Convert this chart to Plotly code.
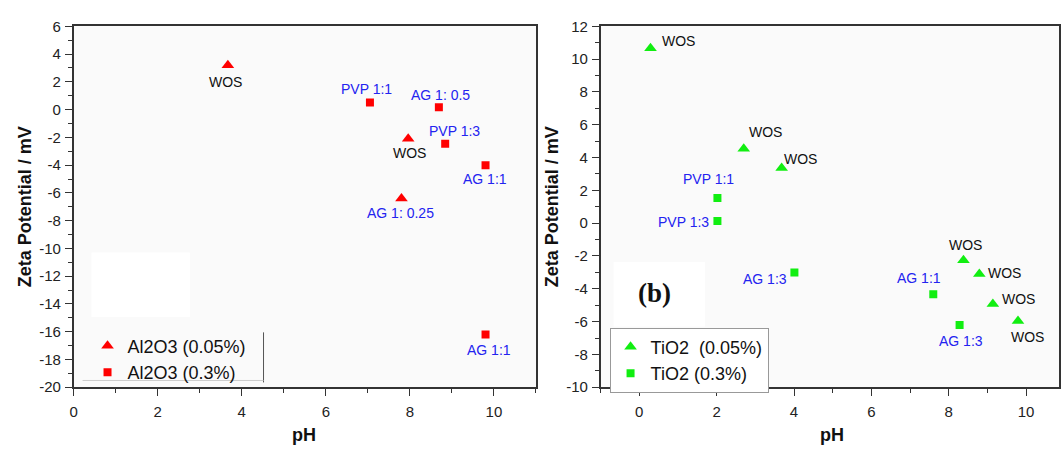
import plotly.graph_objects as go

# ---------------- data ----------------
al_tri_ph = [3.67, 7.96, 7.80]
al_tri_zeta = [3.2, -2.1, -6.4]
al_tri_labels = ["WOS", "WOS", "AG 1: 0.25"]

al_sq_ph = [7.05, 8.69, 8.84, 9.80, 9.80]
al_sq_zeta = [0.52, 0.17, -2.46, -4.0, -16.2]
al_sq_labels = ["PVP 1:1", "AG 1: 0.5", "PVP 1:3", "AG 1:1", "AG 1:1"]

ti_tri_ph = [0.29, 2.70, 3.68, 8.38, 8.79, 9.14, 9.79]
ti_tri_zeta = [10.67, 4.53, 3.36, -2.26, -3.10, -4.93, -5.96]
ti_tri_labels = ["WOS"] * 7

ti_sq_ph = [2.02, 2.02, 4.01, 7.60, 8.28]
ti_sq_zeta = [1.54, 0.14, -3.0, -4.34, -6.2]
ti_sq_labels = ["PVP 1:1", "PVP 1:3", "AG 1:3", "AG 1:1", "AG 1:3"]

series_names = ["Al2O3 (0.05%)", "Al2O3 (0.3%)", "TiO2\u00a0\u00a0(0.05%)", "TiO2 (0.3%)"]
x_title = "pH"
y_title = "Zeta Potential / mV"
panel_tag = "(b)"

x_ticks = [0, 2, 4, 6, 8, 10]
y1_ticks = [6, 4, 2, 0, -2, -4, -6, -8, -10, -12, -14, -16, -18, -20]
y2_ticks = [12, 10, 8, 6, 4, 2, 0, -2, -4, -6, -8, -10]

# ---------------- label placement (pixel offsets, style only) ----------------
al_tri_off = [(-2, 17), (1, 14), (-1, 15)]
al_sq_off = [(-3, -13), (2, -12), (9, -13), (-1, 14), (3, 16)]
ti_tri_off = [(28, -7), (22, -17), (19, -9), (2, -15), (25, -1), (26, -5), (10, 16)]
ti_sq_off = [(-9, -19), (-34, 1), (-29, 7), (-14, -16), (1, 16)]

W, H = 1061, 452
def px(v):
    return v / W
def py(v):
    return 1 - v / H

RED = "#ff0000"
GREEN = "#11ee11"
BLUE = "#2323f0"
BLACK = "#111111"
FONT = "Liberation Sans, Arial, sans-serif"

def tick_text(vals):
    return [str(v) for v in vals]  # plain hyphen-minus as in the original

fig = go.Figure()

fig.add_trace(go.Scatter(x=al_tri_ph, y=al_tri_zeta, mode="markers", name=series_names[0],
                         marker=dict(symbol="triangle-up", size=11, color=RED),
                         xaxis="x", yaxis="y", legend="legend"))
fig.add_trace(go.Scatter(x=al_sq_ph, y=al_sq_zeta, mode="markers", name=series_names[1],
                         marker=dict(symbol="square", size=8, color=RED),
                         xaxis="x", yaxis="y", legend="legend"))
fig.add_trace(go.Scatter(x=ti_tri_ph, y=ti_tri_zeta, mode="markers", name=series_names[2],
                         marker=dict(symbol="triangle-up", size=11, color=GREEN),
                         xaxis="x2", yaxis="y2", legend="legend2"))
fig.add_trace(go.Scatter(x=ti_sq_ph, y=ti_sq_zeta, mode="markers", name=series_names[3],
                         marker=dict(symbol="square", size=8, color=GREEN),
                         xaxis="x2", yaxis="y2", legend="legend2"))

annotations = []
def add_labels(xs, ys, labels, offs, xr, yr):
    for xv, yv, lab, (dx, dy) in zip(xs, ys, labels, offs):
        annotations.append(dict(x=xv, y=yv, xref=xr, yref=yr, text=lab, showarrow=False,
                                xshift=dx, yshift=-dy, xanchor="center", yanchor="middle",
                                font=dict(size=14, family=FONT,
                                          color=BLACK if lab == "WOS" else BLUE)))

add_labels(al_tri_ph, al_tri_zeta, al_tri_labels, al_tri_off, "x", "y")
add_labels(al_sq_ph, al_sq_zeta, al_sq_labels, al_sq_off, "x", "y")
add_labels(ti_tri_ph, ti_tri_zeta, ti_tri_labels, ti_tri_off, "x2", "y2")
add_labels(ti_sq_ph, ti_sq_zeta, ti_sq_labels, ti_sq_off, "x2", "y2")

# axis titles
for cx in (302, 833):
    annotations.append(dict(x=px(cx), y=py(443), xref="paper", yref="paper", text="<b>%s</b>" % x_title,
                            showarrow=False, xanchor="center", yanchor="middle",
                            font=dict(size=18, family=FONT, color=BLACK)))
for cx in (21, 551):
    annotations.append(dict(x=px(cx), y=py(205), xref="paper", yref="paper", text="<b>%s</b>" % y_title,
                            showarrow=False, xanchor="center", yanchor="middle", textangle=-90,
                            font=dict(size=18, family=FONT, color=BLACK)))
annotations.append(dict(x=px(654), y=py(295), xref="paper", yref="paper", text="<b>%s</b>" % panel_tag,
                        showarrow=False, xanchor="center", yanchor="middle",
                        font=dict(size=27, family="Liberation Serif, Times New Roman, serif", color=BLACK)))

shapes = [
    dict(type="rect", xref="paper", yref="paper", x0=px(88), x1=px(187), y0=py(320), y1=py(253),
         fillcolor="white", line=dict(width=0), layer="below"),
    dict(type="rect", xref="paper", yref="paper", x0=px(613), x1=px(705), y0=py(330), y1=py(263),
         fillcolor="white", line=dict(width=0), layer="below"),
    dict(type="line", xref="paper", yref="paper", x0=px(261), x1=px(261), y0=py(388), y1=py(336),
         line=dict(color="#555555", width=1)),
    dict(type="line", xref="paper", yref="paper", x0=px(79), x1=px(261), y0=py(386), y1=py(386),
         line=dict(color="#cccccc", width=1)),
]

axis_common = dict(showline=True, linecolor="#333333", linewidth=1.5, mirror=True,
                   ticks="outside", ticklen=7, tickwidth=1, tickcolor="#333333",
                   showgrid=False, zeroline=False,
                   tickfont=dict(size=15, family=FONT, color="#222222"),
                   minor=dict(ticks="outside", ticklen=4, tickwidth=1, tickcolor="#333333", dtick=1))

ydom = [py(393), py(18)]
fig.update_layout(
    width=W, height=H,
    margin=dict(l=0, r=0, t=0, b=0),
    paper_bgcolor="white", plot_bgcolor="#fafafa",
    showlegend=True,
    xaxis=dict(domain=[px(70), px(535)], range=[0, 11], tickvals=x_ticks, ticktext=tick_text(x_ticks),
               anchor="y", ticklabelstandoff=3, **axis_common),
    yaxis=dict(domain=ydom, range=[-20, 6], tickvals=y1_ticks, ticktext=tick_text(y1_ticks),
               anchor="x", ticklabelstandoff=1, **axis_common),
    xaxis2=dict(domain=[px(600), 1.0], range=[-1, 10.85], tickvals=x_ticks, ticktext=tick_text(x_ticks),
                anchor="y2", ticklabelstandoff=3, **axis_common),
    yaxis2=dict(domain=ydom, range=[-10, 12], tickvals=y2_ticks, ticktext=tick_text(y2_ticks),
                anchor="x2", ticklabelstandoff=1, **axis_common),
    legend=dict(x=px(84), y=py(331), xanchor="left", yanchor="top", bgcolor="rgba(0,0,0,0)",
                borderwidth=0, font=dict(size=18, family=FONT, color=BLACK), tracegroupgap=0),
    legend2=dict(x=px(609), y=py(331), xanchor="left", yanchor="top", bgcolor="white",
                 bordercolor="#999999", borderwidth=1, font=dict(size=18, family=FONT, color=BLACK),
                 tracegroupgap=0),
    annotations=annotations,
    shapes=shapes,
)

fig.write_html("out.html")
